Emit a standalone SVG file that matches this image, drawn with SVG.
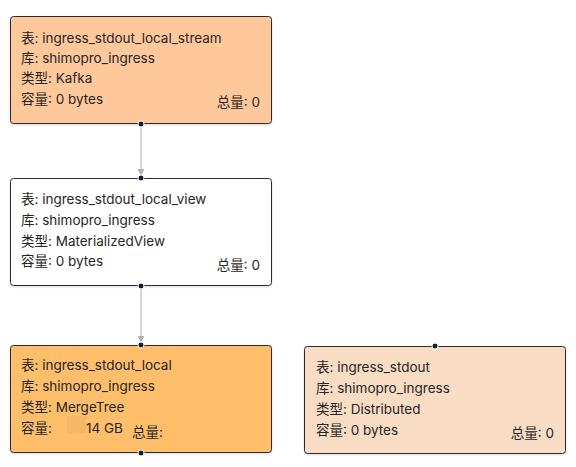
<svg xmlns="http://www.w3.org/2000/svg" width="576" height="467" viewBox="0 0 576 467">
<style>
.box{stroke:#2b2b3b;stroke-width:1}
.t{font-family:Inter,"Noto Sans CJK SC",sans-serif;font-size:13.5px;fill:#262626}
.r{text-anchor:end}
.dot{fill:#1c1c30;stroke:#ffffff;stroke-width:1}
.edge{stroke:#b0b0b0;stroke-width:1;fill:none}
</style>
<defs>
<marker id="arr" viewBox="0 0 8 8" refX="7" refY="4" markerWidth="7" markerHeight="7" orient="auto" markerUnits="userSpaceOnUse">
<path d="M0,0 L8,4 L0,8 Z" fill="#b0b0b0"/>
</marker>
<filter id="sh" x="-5%" y="-5%" width="110%" height="115%">
<feDropShadow dx="0" dy="1" stdDeviation="1" flood-color="#000" flood-opacity="0.15"/>
</filter>
</defs>
<g id="connectors">
<line class="edge" x1="141" y1="125" x2="141" y2="175" marker-end="url(#arr)"/>
<line class="edge" x1="141" y1="287" x2="141" y2="342" marker-end="url(#arr)"/>
</g>
<g id="node-stream">
<rect class="box" x="10.5" y="16.5" width="261" height="107" rx="3" fill="#ffc89b" filter="url(#sh)"/>
<text class="t" x="21" y="43">表: ingress_stdout_local_stream</text>
<text class="t" x="21" y="63">库: shimopro_ingress</text>
<text class="t" x="21" y="83">类型: Kafka</text>
<text class="t" x="21" y="104">容量: 0 bytes</text>
<text class="t r" x="260" y="107">总量: 0</text>
</g>
<g id="node-view">
<rect class="box" x="10.5" y="178.5" width="261" height="107" rx="3" fill="#ffffff" filter="url(#sh)"/>
<text class="t" x="21" y="204">表: ingress_stdout_local_view</text>
<text class="t" x="21" y="225">库: shimopro_ingress</text>
<text class="t" x="21" y="246">类型: MaterializedView</text>
<text class="t" x="21" y="266">容量: 0 bytes</text>
<text class="t r" x="260" y="270">总量: 0</text>
</g>
<g id="node-local">
<rect class="box" x="10.5" y="345.5" width="261" height="107" rx="3" fill="#ffbe6b" filter="url(#sh)"/>
<text class="t" x="21" y="370">表: ingress_stdout_local</text>
<text class="t" x="21" y="391">库: shimopro_ingress</text>
<text class="t" x="21" y="412">类型: MergeTree</text>
<text class="t" x="21" y="433">容量:</text>
<rect x="67" y="416" width="19" height="17" fill="#f6b866"/>
<text class="t" x="86" y="433">14 GB</text>
<text class="t" x="132" y="437">总量:</text>
</g>
<g id="node-distributed">
<rect class="box" x="304.5" y="346.5" width="261" height="107" rx="3" fill="#f9dcc4" filter="url(#sh)"/>
<text class="t" x="316" y="372">表: ingress_stdout</text>
<text class="t" x="316" y="393">库: shimopro_ingress</text>
<text class="t" x="316" y="414">类型: Distributed</text>
<text class="t" x="316" y="435">容量: 0 bytes</text>
<text class="t r" x="554" y="438">总量: 0</text>
</g>
<g id="ports">
<circle class="dot" cx="141" cy="124" r="3"/>
<circle class="dot" cx="141" cy="178" r="3"/>
<circle class="dot" cx="141" cy="286" r="3"/>
<circle class="dot" cx="141" cy="345" r="3"/>
<circle class="dot" cx="141" cy="453" r="3"/>
<circle class="dot" cx="435" cy="346" r="3"/>
</g>
</svg>
